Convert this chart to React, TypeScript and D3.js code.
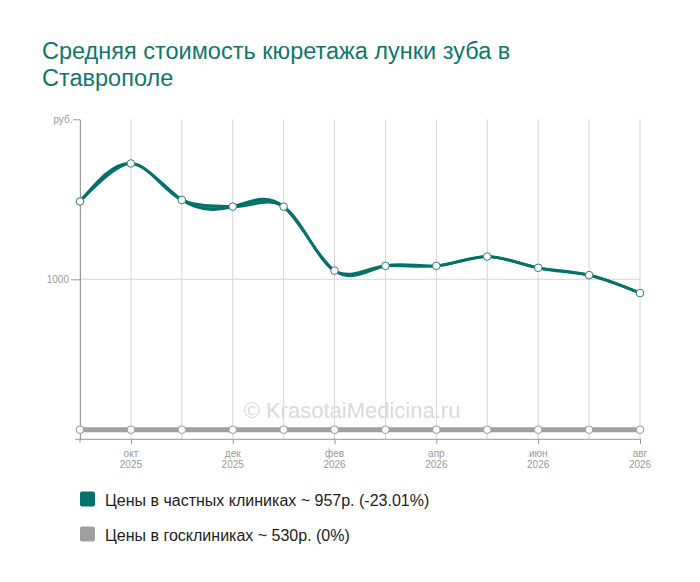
/**
 * Средняя стоимость кюретажа — линейный график
 */
import React, { useEffect, useRef } from 'react'
import * as d3 from 'd3'

const months = ['сен', 'окт', 'ноя', 'дек', 'янв', 'фев', 'мар', 'апр', 'май', 'июн', 'июл', 'авг']
const years = ['2025', '2025', '2025', '2025', '2026', '2026', '2026', '2026', '2026', '2026', '2026', '2026']
const privatePrices = [1243, 1362, 1248, 1227, 1227, 1027, 1042, 1042, 1071, 1036, 1013, 957]
const publicPrices = [530, 530, 530, 530, 530, 530, 530, 530, 530, 530, 530, 530]
const yTicks = [1000, 1500]
const titleLines = ['Средняя стоимость кюретажа лунки зуба в', 'Ставрополе']
const legendLabels = ['Цены в частных клиниках ~ 957р. (-23.01%)', 'Цены в госклиниках ~ 530р. (0%)']

const TEAL = '#04716a'
const GRAY = '#a0a0a0'
const FONT = '"Liberation Sans", Arial, sans-serif'

const App = () => {
  const refSvg = useRef<SVGSVGElement>(null)

  const draw = () => {
    const svg = d3.select(refSvg.current)
    svg.selectAll('*').remove()
    svg.style('font-family', FONT)

    const keys = months.map((m, i) => `${m} ${years[i]}`)
    const x = d3.scalePoint<string>().domain(keys).range([80, 640])
    const y = d3.scaleLinear().domain([500, 1500]).range([439.3, 119.3])

    // title
    const title = svg.append('text').attr('fill', '#10776e').style('font-size', '23.5px')
    titleLines.forEach((t, i) => {
      title.append('tspan').attr('x', 42).attr('y', 59 + i * 26.5).text(t)
    })

    const defs = svg.append('defs')
    const pat = defs.append('pattern').attr('id', 'hatch').attr('patternUnits', 'userSpaceOnUse')
      .attr('width', 2).attr('height', 2)
    pat.append('rect').attr('width', 2).attr('height', 2).attr('fill', TEAL)
    pat.append('rect').attr('width', 1).attr('height', 2).attr('fill', '#3a948d')

    // vertical grid
    svg.append('g').selectAll('line').data(keys).enter().append('line')
      .attr('x1', d => x(d) || 0).attr('x2', d => x(d) || 0)
      .attr('y1', y(1500)).attr('y2', y(500))
      .attr('stroke', '#d6d6d6')

    // horizontal grid
    svg.append('line')
      .attr('x1', x(keys[0]) || 0).attr('x2', x(keys[keys.length - 1]) || 0)
      .attr('y1', y(1000)).attr('y2', y(1000))
      .attr('stroke', '#d6d6d6')

    // y axis
    const yAxis = svg.append('g').attr('transform', 'translate(80,0)')
      .call(d3.axisLeft(y).tickValues(yTicks).tickSize(9).tickSizeOuter(0).tickPadding(2)
        .tickFormat(d => (d === 1500 ? 'руб.' : String(d))))
    yAxis.select('.domain').attr('stroke', '#999')
    yAxis.selectAll('.tick line').attr('stroke', '#999')
    yAxis.selectAll('.tick text').attr('fill', '#999').style('font-size', '10px').style('font-family', FONT)
    yAxis.selectAll<SVGGElement, number>('.tick').filter(d => d === 1500).each(function () {
      d3.select(this).select('line').attr('x2', -7)
      d3.select(this).select('text').attr('x', -7.5)
    })

    // x axis
    const xAxis = svg.append('g').attr('transform', `translate(0,${y(500)})`)
      .call(d3.axisBottom(x).tickValues(keys.filter((_, i) => i % 2 === 1)).tickSize(5).tickFormat(() => ''))
    xAxis.select('.domain').remove()
    xAxis.selectAll('.tick line').attr('stroke', '#999')
    svg.append('line').attr('x1', 75).attr('x2', 641).attr('y1', y(500)).attr('y2', y(500)).attr('stroke', '#999')
    svg.append('line').attr('x1', 80).attr('x2', 80).attr('y1', y(500)).attr('y2', y(500) + 3).attr('stroke', '#999')

    const labels = svg.append('g').attr('fill', '#999').style('font-size', '10px').attr('text-anchor', 'middle')
    keys.forEach((k, i) => {
      if (i % 2 === 0) return
      const t = labels.append('text').attr('transform', `translate(${x(k)},0)`)
      t.append('tspan').attr('x', 0).attr('y', 457).text(months[i])
      t.append('tspan').attr('x', 0).attr('y', 468).text(years[i])
    })

    // watermark
    svg.append('text').attr('x', 352).attr('y', 418).attr('text-anchor', 'middle')
      .attr('fill', '#dadada').style('font-size', '22px').text('© KrasotaiMedicina.ru')

    // public clinics
    const pubPts: [number, number][] = publicPrices.map((v, i) => [x(keys[i]) || 0, y(v)])
    svg.append('path').attr('d', d3.line()(pubPts) || '')
      .attr('fill', 'none').attr('stroke', GRAY).attr('stroke-width', 5)
    svg.append('g').selectAll('circle').data(pubPts).enter().append('circle')
      .attr('cx', d => d[0]).attr('cy', d => d[1]).attr('r', 3.8)
      .attr('fill', '#fff').attr('stroke', '#999').attr('stroke-width', 1)

    // private clinics
    const pts: [number, number][] = privatePrices.map((v, i) => [x(keys[i]) || 0, y(v)])
    const lineNat = d3.line().curve(d3.curveNatural)
    const lineCr = d3.line().curve(d3.curveCardinal.tension(0))
    const band = (lineNat(pts) || '') + (lineCr(pts.slice().reverse()) || '').replace(/^M/, 'L') + 'Z'
    svg.append('path').attr('d', band).attr('fill', 'url(#hatch)')
    svg.append('path').attr('d', lineNat(pts) || '')
      .attr('fill', 'none').attr('stroke', TEAL).attr('stroke-width', 2.8)
    svg.append('path').attr('d', lineCr(pts) || '')
      .attr('fill', 'none').attr('stroke', TEAL).attr('stroke-width', 2.8)
    svg.append('g').selectAll('circle').data(pts).enter().append('circle')
      .attr('cx', d => d[0]).attr('cy', d => d[1]).attr('r', 3.8)
      .attr('fill', '#fff').attr('stroke', '#2a7f78').attr('stroke-width', 1)

    // legend
    const legend = svg.append('g')
    legendLabels.forEach((l, i) => {
      legend.append('rect').attr('x', 80).attr('y', 491.5 + i * 35).attr('width', 15).attr('height', 15)
        .attr('rx', 2).attr('fill', i === 0 ? TEAL : GRAY)
      legend.append('text').attr('x', 105).attr('y', 506 + i * 35)
        .attr('fill', '#222').style('font-size', '16px').text(l)
    })
  }

  useEffect(() => {
    if (refSvg.current) {
      draw()
    }
  })

  return <svg ref={refSvg} width={700} height={582} style={{ position: 'absolute', left: 0, top: 0 }} />
}

export default App
